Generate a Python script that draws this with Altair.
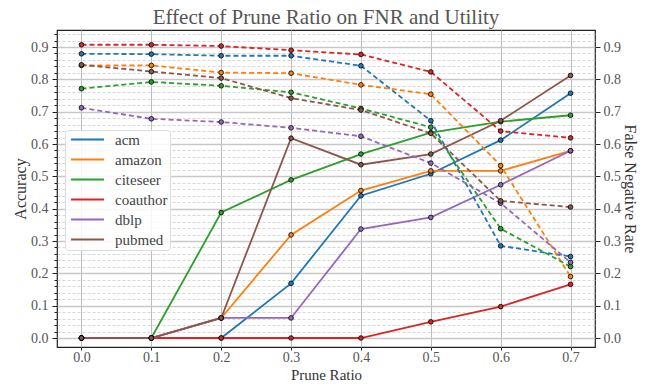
import altair as alt
import pandas as pd

ratios = [0.0, 0.1, 0.2, 0.3, 0.4, 0.5, 0.6, 0.7]
datasets = ["acm", "amazon", "citeseer", "coauthor", "dblp", "pubmed"]
colors = ["#1f77b4", "#ff7f0e", "#2ca02c", "#d62728", "#9467bd", "#8c564b"]

# Accuracy (solid lines, left axis)
acc = {
    "acm":      [0.0, 0.0, 0.0,   0.169, 0.440, 0.508, 0.612, 0.757],
    "amazon":   [0.0, 0.0, 0.062, 0.319, 0.456, 0.517, 0.517, 0.579],
    "citeseer": [0.0, 0.0, 0.388, 0.489, 0.569, 0.635, 0.669, 0.689],
    "coauthor": [0.0, 0.0, 0.0,   0.0,   0.0,   0.050, 0.097, 0.166],
    "dblp":     [0.0, 0.0, 0.062, 0.062, 0.337, 0.373, 0.474, 0.579],
    "pubmed":   [0.0, 0.0, 0.062, 0.618, 0.536, 0.569, 0.672, 0.812],
}

# False negative rate (dashed lines, right axis)
fnr = {
    "acm":      [0.879, 0.878, 0.873, 0.873, 0.842, 0.672, 0.285, 0.252],
    "amazon":   [0.843, 0.843, 0.821, 0.819, 0.783, 0.754, 0.533, 0.190],
    "citeseer": [0.771, 0.792, 0.780, 0.760, 0.710, 0.652, 0.338, 0.221],
    "coauthor": [0.907, 0.907, 0.903, 0.890, 0.877, 0.823, 0.640, 0.619],
    "dblp":     [0.712, 0.678, 0.668, 0.650, 0.624, 0.541, 0.417, 0.234],
    "pubmed":   [0.845, 0.824, 0.804, 0.742, 0.705, 0.633, 0.424, 0.405],
}

major_ticks = [round(i * 0.1, 1) for i in range(10)]
minor_ticks = [round(i * 0.02, 2) for i in range(48)]

rows = []
for d in datasets:
    for i, r in enumerate(ratios):
        rows.append({"ratio": r, "dataset": d, "acc": acc[d][i], "fnr": fnr[d][i]})
df = pd.DataFrame(rows)

FONT = "Liberation Serif"
MAJ = "abs(datum.value*10 - round(datum.value*10)) < 0.001"
ydom = [-0.0278, 0.9526]
xdom = [-0.035, 0.735]

x_enc = alt.X(
    "ratio:Q",
    scale=alt.Scale(domain=xdom, nice=False, zero=False),
    axis=alt.Axis(
        values=ratios, format=".1f", title="Prune Ratio", grid=True,
        gridColor="#bdbdbd", gridWidth=1, tickSize=3, domain=False,
        labelPadding=0, titleFontSize=15, titleBaseline="alphabetic", titleY=32,
    ),
)
color_enc = alt.Color(
    "dataset:N",
    scale=alt.Scale(domain=datasets, range=colors),
    legend=alt.Legend(
        title=None, orient="none", legendX=8, legendY=100,
        symbolType="M-4,0H4", symbolSize=68, symbolStrokeWidth=2,
        symbolOffset=13,
        labelFont=FONT, labelFontSize=15, labelColor="#444",
        labelOffset=20, rowPadding=4, padding=2,
        fillColor="rgba(255,255,255,0.85)", strokeColor="#dddddd",
        cornerRadius=3,
    ),
)
color_noleg = alt.Color("dataset:N", scale=alt.Scale(domain=datasets, range=colors), legend=None)

left_axis = alt.Axis(
    orient="left", values=minor_ticks, title="Accuracy",
    labelExpr=f"{MAJ} ? format(datum.value, '.1f') : ''",
    labelOverlap=False, domain=False, grid=True,
    gridDash={"condition": {"test": MAJ, "value": []}, "value": [3, 2]},
    gridColor={"condition": {"test": MAJ, "value": "#c8c8c8"}, "value": "#cdcdcd"},
    gridWidth={"condition": {"test": MAJ, "value": 1.3}, "value": 0.8},
    tickSize={"condition": {"test": MAJ, "value": 5}, "value": 3},
    labelPadding=4, titlePadding=2,
)
right_axis = alt.Axis(
    orient="right", values=major_ticks, format=".1f", title="False Negative Rate",
    grid=False, domain=False, tickSize=5, labelPadding=3, titlePadding=1,
)

ysc = alt.Scale(domain=ydom, nice=False, zero=False)

base = alt.Chart(df)
acc_line = base.mark_line(strokeWidth=1.8).encode(
    x=x_enc, y=alt.Y("acc:Q", scale=ysc, axis=left_axis), color=color_enc,
    detail="dataset:N",
)
acc_pts = base.mark_point(filled=True, size=22, stroke="black", strokeWidth=0.8, opacity=1).encode(
    x="ratio:Q", y=alt.Y("acc:Q", scale=ysc, axis=None), color=color_noleg,
)
fnr_line = base.mark_line(strokeWidth=1.8, strokeDash=[5, 3]).encode(
    x="ratio:Q", y=alt.Y("fnr:Q", scale=ysc, axis=right_axis), color=color_noleg,
    detail="dataset:N",
)
fnr_pts = base.mark_point(filled=True, size=22, stroke="black", strokeWidth=0.8, opacity=1).encode(
    x="ratio:Q", y=alt.Y("fnr:Q", scale=ysc, axis=None), color=color_noleg,
)

chart = (
    alt.layer(acc_line, acc_pts, fnr_line, fnr_pts)
    .resolve_scale(y="independent")
    .properties(
        width=538, height=317,
        autosize=alt.AutoSizeParams(type="none"),
        padding={"left": 49, "top": 22, "right": 45, "bottom": 34},
        title=alt.TitleParams(
            "Effect of Prune Ratio on FNR and Utility", font=FONT, fontSize=21,
            color="#555555", fontWeight="normal", anchor="middle", offset=6,
            baseline="bottom", dy=28,
        ),
    )
    .configure_view(stroke="#222222", strokeWidth=1.2)
    .configure_axis(
        labelFont=FONT, titleFont=FONT, labelFontSize=14, titleFontSize=16,
        labelColor="#555555", titleColor="#333333", tickColor="#222222",
        titleFontWeight="normal",
    )
)

chart.save("out.html", embed_options={"renderer": "svg", "actions": False})
